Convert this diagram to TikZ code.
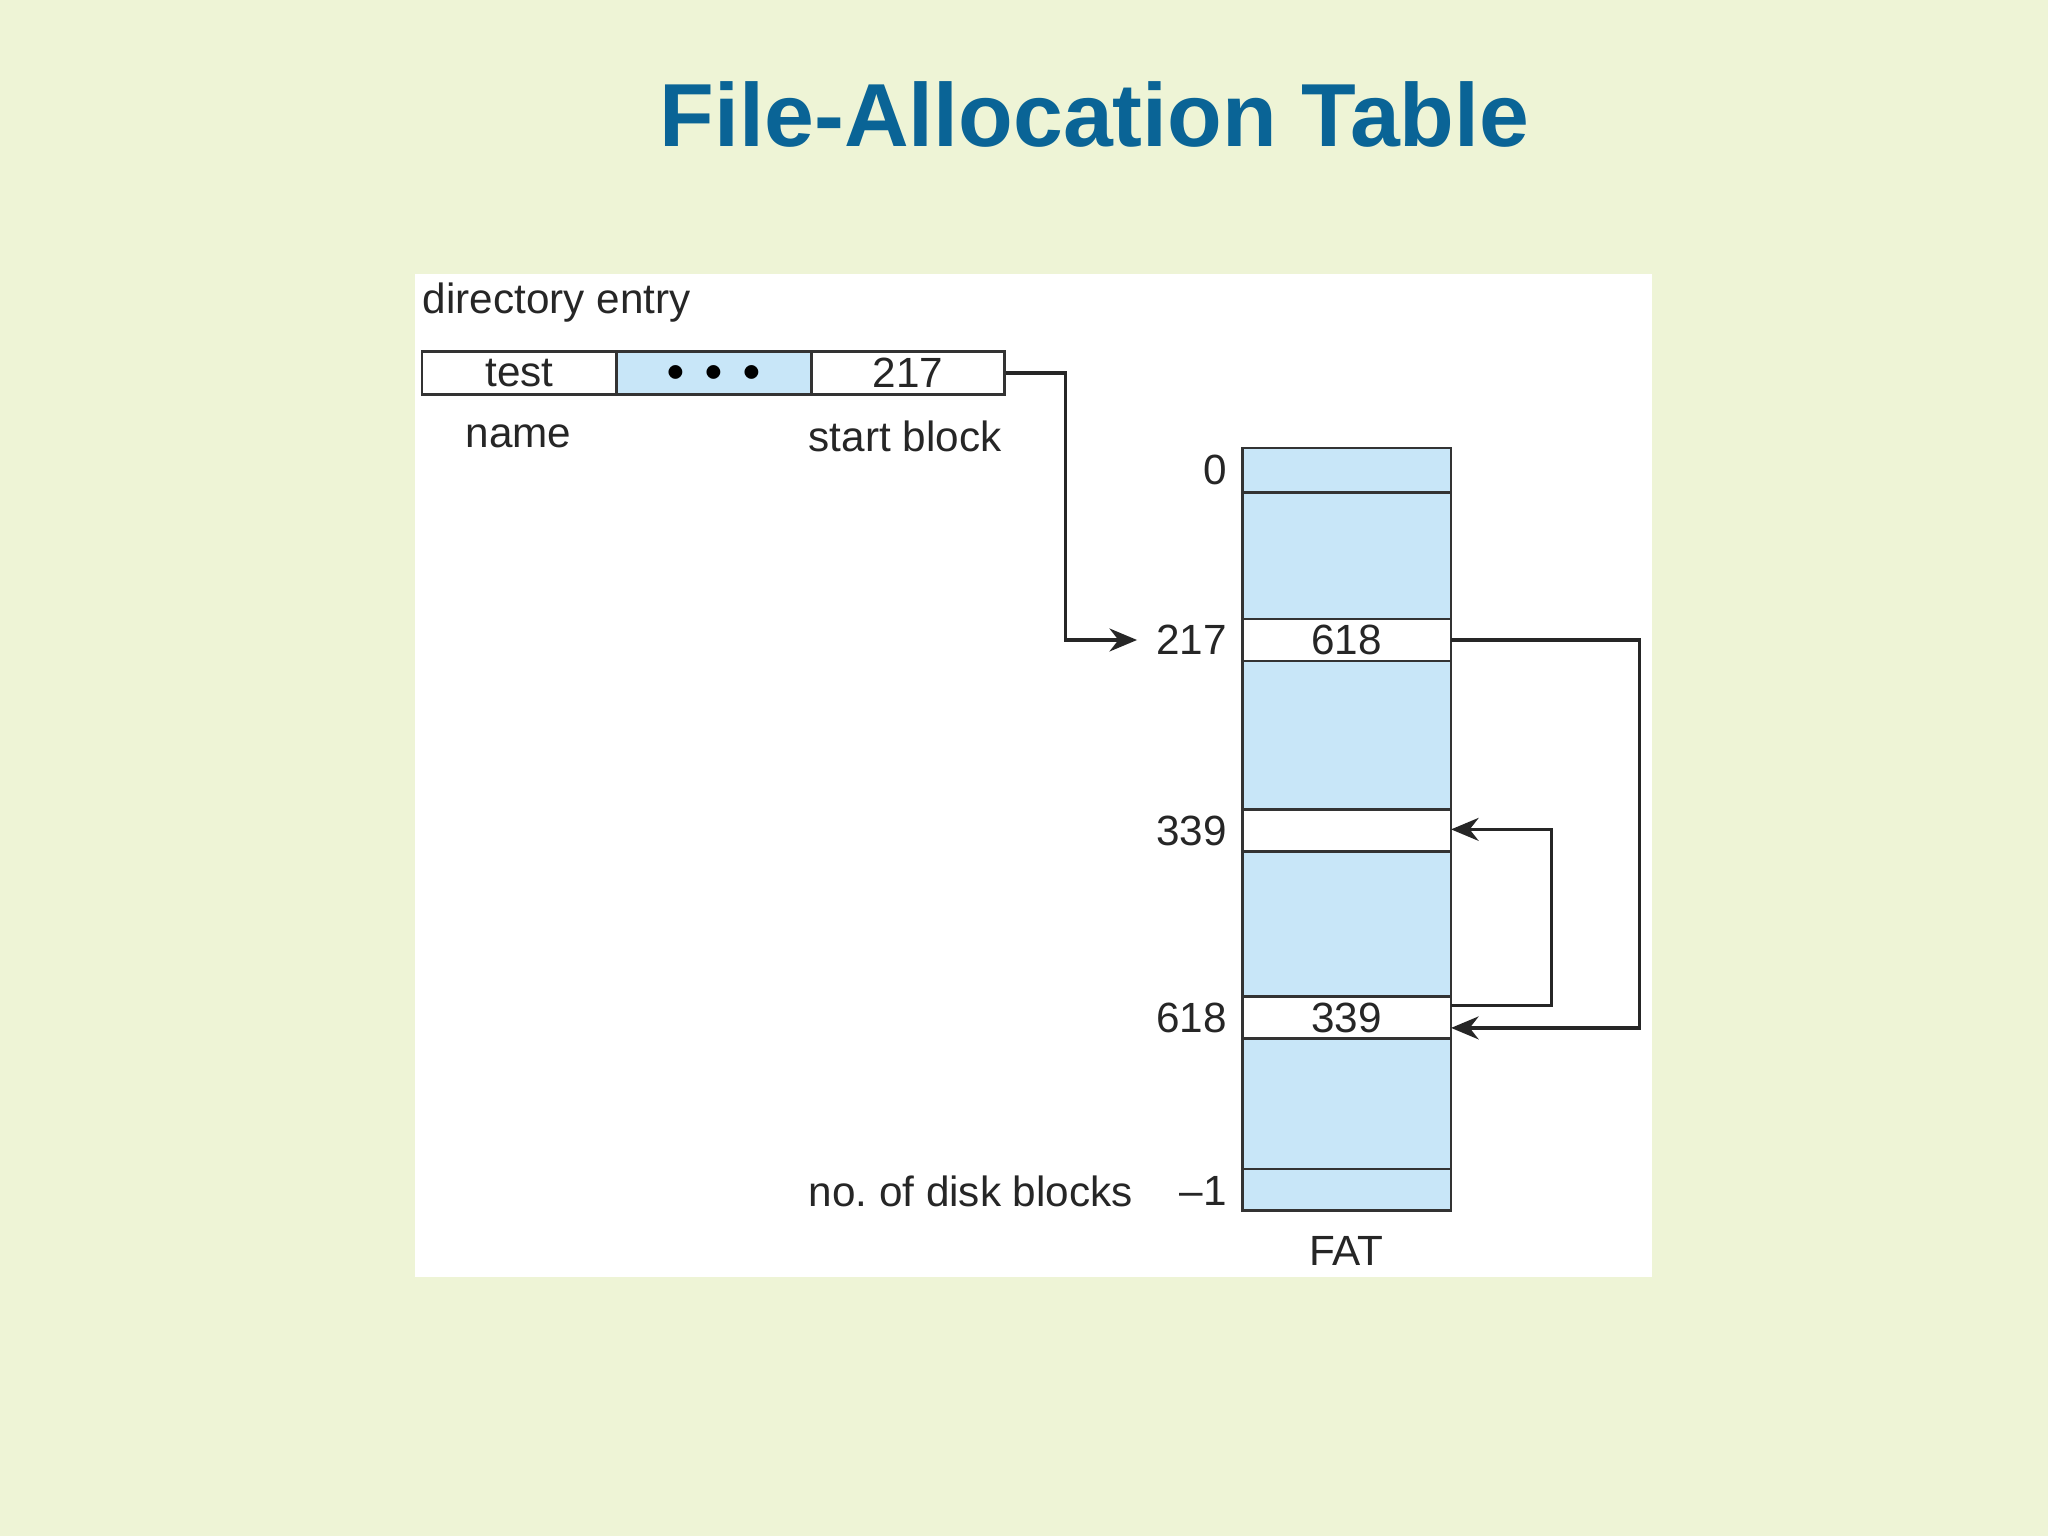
\documentclass[tikz,border=0pt]{standalone}
\usepackage{fontspec}
\setmainfont{Liberation Sans}
\usetikzlibrary{arrows.meta}
\definecolor{bg}{RGB}{238,244,214}
\definecolor{cell}{RGB}{200,230,248}
\definecolor{ttl}{RGB}{10,100,150}
\begin{document}
\begin{tikzpicture}[x=0.01cm,y=-0.01cm,
  lbl/.style={inner sep=0pt,font=\fontsize{9.2}{11}\selectfont,text=black!85},
  box/.style={draw=black!80,line width=0.6pt},
  link/.style={draw=black!85,line width=0.7pt,-{Stealth[length=6pt,width=5pt]}}]
\fill[bg] (0,0) rectangle (1568,1176);
\useasboundingbox (0,0) rectangle (1568,1176);
\fill[white] (318,210) rectangle (1265,978);
\node[font=\fontsize{19.5}{22}\selectfont\bfseries,text=ttl] (title) at (838,88) {File-Allocation Table};
\node[lbl,anchor=west] (dir) at (323,232) {directory entry};
% directory entry boxes
\node[box,fill=white,inner sep=0pt,anchor=north west,minimum width=1.49cm,minimum height=0.33cm] (test) at (322,268) {};
\node[lbl] at (test) {test};
\node[box,fill=cell,inner sep=0pt,anchor=north west,minimum width=1.49cm,minimum height=0.33cm,font=\scriptsize] (dots) at (471,268) {$\bullet\;\bullet\;\bullet$};
\node[box,fill=white,inner sep=0pt,anchor=north west,minimum width=1.48cm,minimum height=0.33cm] (sb) at (620,268) {};
\node[lbl] at (sb) {217};
\node[lbl] (nm) at (397,334) {name};
\node[lbl] (st) at (693,334) {start block};
% FAT
\foreach \n/\a/\b/\c in {r0/343/377/cell, g1/377/474/cell, r217/474/506/white, g2/506/620/cell, r339/620/652/white, g3/652/763/cell, r618/763/795/white, g4/795/895/cell, rend/895/927/cell}
  \path[box,fill=\c] (951,\a) rectangle (1111,\b) coordinate[pos=0.5] (\n);
\node[lbl] at (1031,490) {618};
\node[lbl] at (1031,779) {339};
\node[lbl,anchor=east] (l0) at (940,360) {0};
\node[lbl,anchor=east] (l217) at (940,490) {217};
\node[lbl,anchor=east] (l339) at (940,636) {339};
\node[lbl,anchor=east] (l618) at (940,779) {618};
\node[lbl,anchor=east] (lend) at (940,912) {\textendash1};
\node[lbl,anchor=east] (ndb) at (868,912) {no.\ of disk blocks};
\node[lbl] (fat) at (1031,958) {FAT};
% connectors
\coordinate (e217) at (1111,490);
\coordinate (e618a) at (1111,770);
\coordinate (e618b) at (1111,787);
\coordinate (e339) at (1111,635);
\coordinate (tgt) at ([xshift=-4pt]l217.west);
\draw[link] (sb.east) -| (816,490) -- (tgt);
\draw[link] (e217) -- (1255,490) -- (1255,787) -- (e618b);
\draw[link] (e618a) -- (1188,770) -- (1188,635) -- (e339);
\end{tikzpicture}
\end{document}
